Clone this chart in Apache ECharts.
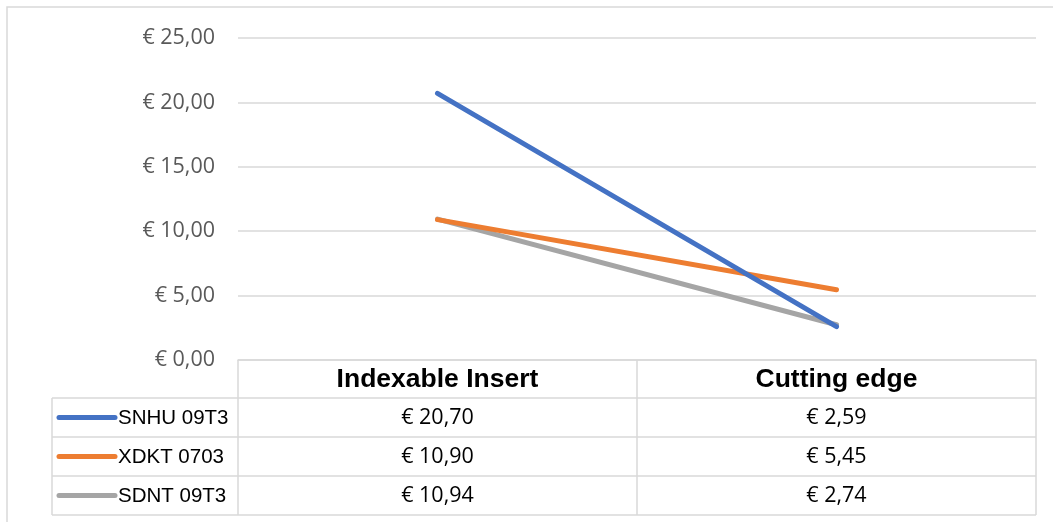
<!DOCTYPE html>
<html>
<head>
<meta charset="utf-8">
<script src="https://cdn.jsdelivr.net/npm/echarts@6/dist/echarts.min.js"></script>
<style>html,body{margin:0;padding:0;background:#fff;}#c{width:1053px;height:522px;}</style>
</head>
<body>
<div id="c"></div>
<script>
const categories = ['Indexable Insert', 'Cutting edge'];
const seriesNames = ['SNHU 09T3', 'XDKT 0703', 'SDNT 09T3'];
const snhu = [20.70, 2.59];
const xdkt = [10.90, 5.45];
const sdnt = [10.94, 2.74];
const yTicks = [0, 5, 10, 15, 20, 25];
const colors = ['#4472C4', '#ED7D31', '#A5A5A5'];

const seriesValues = [snhu, xdkt, sdnt];
const fmt = v => '€ ' + v.toFixed(2).replace('.', ',');

const chart = echarts.init(document.getElementById('c'), null, {renderer: 'canvas'});
const G = {left: 238, right: 17, top: 38, bottom: 162};
const lineCol = '#d9d9d9';
const valFont = '"Open Sans", sans-serif';

chart.setOption({
  animation: false,
  backgroundColor: '#fff',
  grid: {left: G.left, right: G.right, top: G.top, bottom: G.bottom},
  xAxis: {
    type: 'category', data: categories, boundaryGap: true,
    axisLabel: {show: false}, axisTick: {show: false},
    axisLine: {show: true, lineStyle: {color: lineCol, width: 1.5}}
  },
  yAxis: {
    type: 'value', min: yTicks[0], max: yTicks[yTicks.length - 1], interval: 5,
    axisLine: {show: false}, axisTick: {show: false},
    splitLine: {lineStyle: {color: lineCol, width: 1.5}},
    axisLabel: {formatter: fmt, color: '#595959', fontSize: 21.5, fontFamily: valFont, margin: 23}
  },
  series: seriesValues.map((vals, i) => ({
    name: seriesNames[i], type: 'line', data: vals, symbol: 'none',
    lineStyle: {color: colors[i], width: 5, cap: 'round'},
    itemStyle: {color: colors[i]}, z: 10 - i
  }))
});

// data table under the plot
const plotLeft = G.left, plotRight = 1053 - G.right, plotBottom = 522 - G.bottom;
const tableLeft = 52;
const headerH = 38, rowH = 39;
const colW = (plotRight - plotLeft) / categories.length;
const els = [];
// outer frame
els.push({type: 'rect', shape: {x: 7, y: 7, width: 1060, height: 530}, style: {fill: 'none', stroke: lineCol, lineWidth: 1.5}, silent: true});
const tableBottom = plotBottom + headerH + rowH * seriesNames.length;
const ln = (x1, y1, x2, y2) => els.push({type: 'line', shape: {x1, y1, x2, y2}, style: {stroke: lineCol, lineWidth: 1.5}, silent: true});
// vertical lines
for (let c = 0; c <= categories.length; c++) ln(plotLeft + c * colW, plotBottom, plotLeft + c * colW, tableBottom);
ln(tableLeft, plotBottom + headerH, tableLeft, tableBottom);
// horizontal lines
for (let r = 0; r <= seriesNames.length; r++) {
  const y = plotBottom + headerH + r * rowH;
  ln(tableLeft, y, plotRight, y);
}
// header texts
categories.forEach((c, j) => {
  els.push({type: 'text', x: plotLeft + (j + 0.5) * colW, y: plotBottom + headerH / 2 + 1,
    style: {text: c, font: 'bold 26.5px "Liberation Sans", Arial, sans-serif', fill: '#000', align: 'center', verticalAlign: 'middle'}, silent: true});
});
// rows
seriesNames.forEach((n, i) => {
  const yc = plotBottom + headerH + (i + 0.5) * rowH;
  els.push({type: 'line', shape: {x1: tableLeft + 7, y1: yc, x2: tableLeft + 63, y2: yc},
    style: {stroke: colors[i], lineWidth: 5, lineCap: 'round'}, silent: true});
  els.push({type: 'text', x: tableLeft + 66, y: yc + 1,
    style: {text: n, font: '20.5px "Liberation Sans", Arial, sans-serif', fill: '#000', align: 'left', verticalAlign: 'middle'}, silent: true});
  seriesValues[i].forEach((v, j) => {
    els.push({type: 'text', x: plotLeft + (j + 0.5) * colW, y: yc,
      style: {text: fmt(v), font: '21.5px ' + valFont, fill: '#000', align: 'center', verticalAlign: 'middle'}, silent: true});
  });
});
chart.setOption({graphic: {elements: els}});
</script>
</body>
</html>
